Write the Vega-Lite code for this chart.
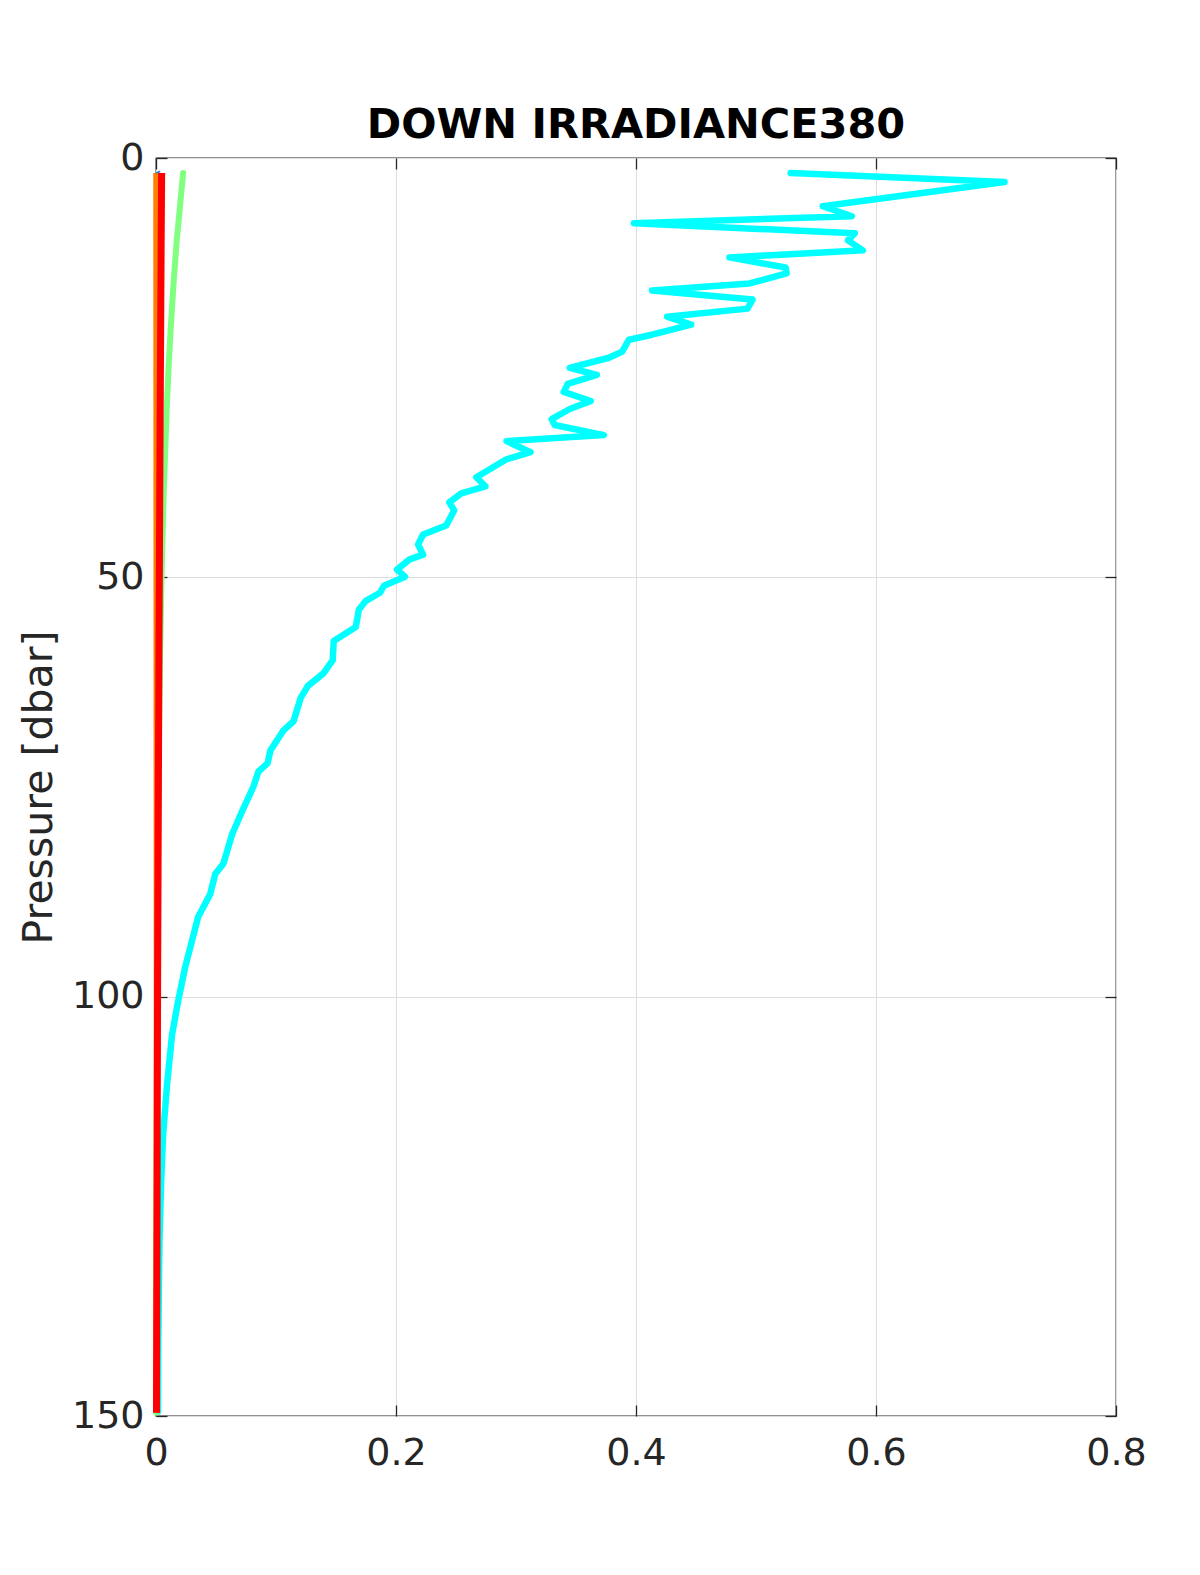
{
  "$schema": "https://vega.github.io/schema/vega-lite/v6.json",
  "width": 960,
  "height": 1258,
  "autosize": {"type": "none"},
  "padding": {"left": 156, "top": 158, "right": 84, "bottom": 159},
  "background": "white",
  "title": {"text": "DOWN IRRADIANCE380", "fontSize": 41.5, "font": "DejaVu Sans", "fontWeight": "bold", "color": "#000000", "anchor": "middle", "offset": -7},
  "config": {
    "view": {"stroke": "#262626", "strokeWidth": 1.3},
    "axis": {
      "domain": false,
      "grid": true,
      "gridColor": "#dddddd",
      "gridWidth": 1,
      "ticks": true,
      "tickColor": "#262626",
      "tickSize": -11,
      "tickWidth": 1.3,
      "labelFont": "DejaVu Sans",
      "labelFontSize": 38,
      "labelColor": "#262626",
      "titleFont": "DejaVu Sans",
      "titleFontSize": 41,
      "titleFontWeight": "normal",
      "titleColor": "#262626"
    }
  },
  "datasets": {
    "d": [
      {"s": "cyan", "i": 1, "p": 1.80, "v": 0.5289},
      {"s": "cyan", "i": 2, "p": 2.87, "v": 0.7071},
      {"s": "cyan", "i": 3, "p": 5.75, "v": 0.5556},
      {"s": "cyan", "i": 4, "p": 6.94, "v": 0.5799},
      {"s": "cyan", "i": 5, "p": 7.78, "v": 0.3983},
      {"s": "cyan", "i": 6, "p": 8.98, "v": 0.5824},
      {"s": "cyan", "i": 7, "p": 9.82, "v": 0.5766},
      {"s": "cyan", "i": 8, "p": 11.01, "v": 0.5891},
      {"s": "cyan", "i": 9, "p": 11.85, "v": 0.4778},
      {"s": "cyan", "i": 10, "p": 13.05, "v": 0.5247},
      {"s": "cyan", "i": 11, "p": 13.77, "v": 0.5255},
      {"s": "cyan", "i": 12, "p": 14.96, "v": 0.4946},
      {"s": "cyan", "i": 13, "p": 15.80, "v": 0.4134},
      {"s": "cyan", "i": 14, "p": 16.88, "v": 0.4971},
      {"s": "cyan", "i": 15, "p": 17.96, "v": 0.4929},
      {"s": "cyan", "i": 16, "p": 18.92, "v": 0.4259},
      {"s": "cyan", "i": 17, "p": 19.87, "v": 0.4460},
      {"s": "cyan", "i": 18, "p": 21.07, "v": 0.4134},
      {"s": "cyan", "i": 19, "p": 21.67, "v": 0.3941},
      {"s": "cyan", "i": 20, "p": 23.11, "v": 0.3883},
      {"s": "cyan", "i": 21, "p": 23.82, "v": 0.3774},
      {"s": "cyan", "i": 22, "p": 25.02, "v": 0.3448},
      {"s": "cyan", "i": 23, "p": 25.86, "v": 0.3674},
      {"s": "cyan", "i": 24, "p": 26.94, "v": 0.3431},
      {"s": "cyan", "i": 25, "p": 27.89, "v": 0.3397},
      {"s": "cyan", "i": 26, "p": 28.97, "v": 0.3623},
      {"s": "cyan", "i": 27, "p": 29.93, "v": 0.3448},
      {"s": "cyan", "i": 28, "p": 31.13, "v": 0.3297},
      {"s": "cyan", "i": 29, "p": 31.84, "v": 0.3322},
      {"s": "cyan", "i": 30, "p": 33.04, "v": 0.3732},
      {"s": "cyan", "i": 31, "p": 33.76, "v": 0.2921},
      {"s": "cyan", "i": 32, "p": 35.08, "v": 0.3121},
      {"s": "cyan", "i": 33, "p": 35.92, "v": 0.2921},
      {"s": "cyan", "i": 34, "p": 38.07, "v": 0.2669},
      {"s": "cyan", "i": 35, "p": 39.15, "v": 0.2745},
      {"s": "cyan", "i": 36, "p": 39.99, "v": 0.2544},
      {"s": "cyan", "i": 37, "p": 41.06, "v": 0.2444},
      {"s": "cyan", "i": 38, "p": 42.02, "v": 0.2485},
      {"s": "cyan", "i": 39, "p": 43.82, "v": 0.2418},
      {"s": "cyan", "i": 40, "p": 44.89, "v": 0.2226},
      {"s": "cyan", "i": 41, "p": 46.09, "v": 0.2184},
      {"s": "cyan", "i": 42, "p": 47.29, "v": 0.2226},
      {"s": "cyan", "i": 43, "p": 47.89, "v": 0.2109},
      {"s": "cyan", "i": 44, "p": 49.08, "v": 0.2008},
      {"s": "cyan", "i": 45, "p": 49.92, "v": 0.2075},
      {"s": "cyan", "i": 46, "p": 51.00, "v": 0.1900},
      {"s": "cyan", "i": 47, "p": 51.84, "v": 0.1866},
      {"s": "cyan", "i": 48, "p": 52.80, "v": 0.1749},
      {"s": "cyan", "i": 49, "p": 53.87, "v": 0.1690},
      {"s": "cyan", "i": 50, "p": 55.91, "v": 0.1665},
      {"s": "cyan", "i": 51, "p": 57.58, "v": 0.1481},
      {"s": "cyan", "i": 52, "p": 59.86, "v": 0.1473},
      {"s": "cyan", "i": 53, "p": 61.42, "v": 0.1397},
      {"s": "cyan", "i": 54, "p": 62.97, "v": 0.1264},
      {"s": "cyan", "i": 55, "p": 64.41, "v": 0.1205},
      {"s": "cyan", "i": 56, "p": 67.16, "v": 0.1146},
      {"s": "cyan", "i": 57, "p": 68.24, "v": 0.1063},
      {"s": "cyan", "i": 58, "p": 70.63, "v": 0.0954},
      {"s": "cyan", "i": 59, "p": 72.19, "v": 0.0929},
      {"s": "cyan", "i": 60, "p": 73.15, "v": 0.0854},
      {"s": "cyan", "i": 61, "p": 74.94, "v": 0.0812},
      {"s": "cyan", "i": 62, "p": 77.82, "v": 0.0720},
      {"s": "cyan", "i": 63, "p": 80.57, "v": 0.0636},
      {"s": "cyan", "i": 64, "p": 84.16, "v": 0.0561},
      {"s": "cyan", "i": 65, "p": 85.36, "v": 0.0494},
      {"s": "cyan", "i": 66, "p": 87.75, "v": 0.0452},
      {"s": "cyan", "i": 67, "p": 90.51, "v": 0.0351},
      {"s": "cyan", "i": 68, "p": 96.49, "v": 0.0243},
      {"s": "cyan", "i": 69, "p": 100.56, "v": 0.0184},
      {"s": "cyan", "i": 70, "p": 104.51, "v": 0.0134},
      {"s": "cyan", "i": 71, "p": 110.50, "v": 0.0092},
      {"s": "cyan", "i": 72, "p": 116.49, "v": 0.0059},
      {"s": "cyan", "i": 73, "p": 122.47, "v": 0.0042},
      {"s": "cyan", "i": 74, "p": 128.46, "v": 0.0030},
      {"s": "cyan", "i": 75, "p": 134.44, "v": 0.0024},
      {"s": "cyan", "i": 76, "p": 141.60, "v": 0.0019},
      {"s": "cyan", "i": 77, "p": 149.50, "v": 0.0016},
      {"s": "green", "i": 1, "p": 1.8, "v": 0.0226},
      {"s": "green", "i": 2, "p": 5, "v": 0.0205},
      {"s": "green", "i": 3, "p": 10, "v": 0.0172},
      {"s": "green", "i": 4, "p": 15, "v": 0.0146},
      {"s": "green", "i": 5, "p": 20, "v": 0.0124},
      {"s": "green", "i": 6, "p": 25, "v": 0.0105},
      {"s": "green", "i": 7, "p": 30, "v": 0.0089},
      {"s": "green", "i": 8, "p": 40, "v": 0.0064},
      {"s": "green", "i": 9, "p": 50, "v": 0.0046},
      {"s": "green", "i": 10, "p": 60, "v": 0.0033},
      {"s": "green", "i": 11, "p": 70, "v": 0.0024},
      {"s": "green", "i": 12, "p": 80, "v": 0.0017},
      {"s": "green", "i": 13, "p": 100, "v": 0.0009},
      {"s": "green", "i": 14, "p": 120, "v": 0.0005},
      {"s": "green", "i": 15, "p": 149.6, "v": 0.0002},
      {"s": "orange", "i": 1, "p": 1.8, "v": 0.0002},
      {"s": "orange", "i": 2, "p": 50, "v": 0.0004},
      {"s": "orange", "i": 3, "p": 100, "v": 0.0006},
      {"s": "orange", "i": 4, "p": 149.6, "v": 0.0008},
      {"s": "red", "i": 1, "p": 1.8, "v": 0.0047},
      {"s": "red", "i": 2, "p": 10, "v": 0.0043},
      {"s": "red", "i": 3, "p": 30, "v": 0.0035},
      {"s": "red", "i": 4, "p": 60, "v": 0.0024},
      {"s": "red", "i": 5, "p": 100, "v": 0.0013},
      {"s": "red", "i": 6, "p": 149.6, "v": 0.0004},
      {"s": "blue", "i": 1, "p": 1.6, "v": 0.0035},
      {"s": "blue", "i": 2, "p": 1.8, "v": 0.0}
    ]
  },
  "data": {"name": "d"},
  "resolve": {"axis": {"x": "independent", "y": "independent"}},
  "layer": [
    {
      "transform": [{"filter": "datum.s === 'cyan'"}],
      "mark": {"type": "line", "color": "#00FFFF", "strokeWidth": 6.5, "strokeJoin": "round", "strokeCap": "round"},
      "encoding": {
        "x": {"field": "v", "type": "quantitative", "scale": {"domain": [0, 0.8], "nice": false, "zero": false},
              "axis": {"orient": "bottom", "title": null, "values": [0, 0.2, 0.4, 0.6, 0.8], "format": "~g", "labelPadding": 29, "labelAlign": "center", "labelFlush": false}},
        "y": {"field": "p", "type": "quantitative", "scale": {"domain": [0, 150], "reverse": true, "nice": false, "zero": false},
              "axis": {"orient": "left", "title": "Pressure [dbar]", "values": [0, 50, 100, 150], "labelPadding": 23, "labelFlush": false, "titlePadding": 11}},
        "order": {"field": "i", "type": "quantitative"}
      }
    },
    {
      "transform": [{"filter": "datum.s === 'green'"}],
      "mark": {"type": "line", "color": "#80FF80", "strokeWidth": 6, "strokeJoin": "round", "strokeCap": "round"},
      "encoding": {
        "x": {"field": "v", "type": "quantitative", "axis": {"orient": "top", "title": null, "labels": false, "grid": false, "values": [0, 0.2, 0.4, 0.6, 0.8]}},
        "y": {"field": "p", "type": "quantitative", "axis": {"orient": "right", "title": null, "labels": false, "grid": false, "values": [0, 50, 100, 150]}},
        "order": {"field": "i", "type": "quantitative"}
      }
    },
    {
      "transform": [{"filter": "datum.s === 'orange'"}],
      "mark": {"type": "line", "color": "#FF8000", "strokeWidth": 6},
      "encoding": {
        "x": {"field": "v", "type": "quantitative", "axis": null},
        "y": {"field": "p", "type": "quantitative", "axis": null},
        "order": {"field": "i", "type": "quantitative"}
      }
    },
    {
      "transform": [{"filter": "datum.s === 'red'"}],
      "mark": {"type": "line", "color": "#FF0000", "strokeWidth": 7},
      "encoding": {
        "x": {"field": "v", "type": "quantitative", "axis": null},
        "y": {"field": "p", "type": "quantitative", "axis": null},
        "order": {"field": "i", "type": "quantitative"}
      }
    },
    {
      "transform": [{"filter": "datum.s === 'blue'"}],
      "mark": {"type": "line", "color": "#3F7FBF", "strokeWidth": 2},
      "encoding": {
        "x": {"field": "v", "type": "quantitative", "axis": null},
        "y": {"field": "p", "type": "quantitative", "axis": null},
        "order": {"field": "i", "type": "quantitative"}
      }
    }
  ]
}
